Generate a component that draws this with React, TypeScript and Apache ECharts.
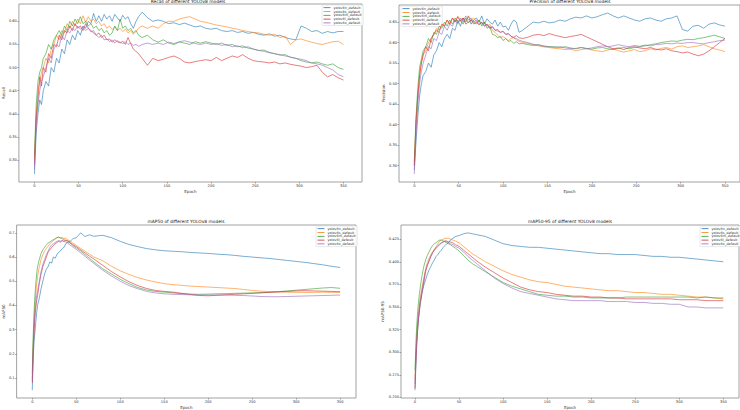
import React, { useEffect, useRef } from "react";
import * as echarts from "echarts";

const MODEL_NAMES = ["yolov8n_default", "yolov8s_default", "yolov8m_default", "yolov8l_default", "yolov8x_default"];
const COLORS = ["#1f77b4", "#ff7f0e", "#2ca02c", "#d62728", "#9467bd"];

const EPOCH_TICKS = [0, 50, 100, 150, 200, 250, 300, 350];
const RECALL_TICKS = [0.3, 0.35, 0.4, 0.45, 0.5, 0.55, 0.6];
const PRECISION_TICKS = [0.3, 0.35, 0.4, 0.45, 0.5, 0.55, 0.6, 0.65];
const MAP50_TICKS = [0.1, 0.2, 0.3, 0.4, 0.5, 0.6, 0.7];
const MAP5095_TICKS = [0.25, 0.275, 0.3, 0.325, 0.35, 0.375, 0.4, 0.425];

const EPOCHS_TOP = [0, 2, 4, 6, 8, 10, 13, 16, 19, 22, 25, 28, 31, 34, 37, 40, 43, 46, 49, 52, 55, 58, 61, 64, 67, 70, 73, 76, 79, 82, 85, 88, 91, 94, 97, 100, 103, 106, 109, 112, 115, 118, 122, 128, 134, 140, 146, 152, 158, 164, 170, 176, 182, 188, 194, 200, 206, 212, 218, 224, 230, 236, 242, 248, 254, 260, 266, 272, 278, 284, 290, 296, 302, 308, 314, 320, 326, 332, 338, 344, 350];

const EPOCHS_BOTTOM = [0, 1, 2, 3, 4, 5, 6, 8, 10, 12, 14, 16, 18, 20, 22, 24, 26, 28, 30, 32, 34, 36, 38, 40, 43, 46, 50, 55, 60, 65, 70, 80, 90, 100, 110, 120, 130, 140, 150, 160, 170, 180, 190, 200, 210, 220, 230, 240, 250, 260, 270, 280, 290, 300, 310, 320, 330, 340, 350];

// Recall
const recallN = [0.27, 0.36, 0.40, 0.43, 0.42, 0.45,
  0.47, 0.46, 0.50, 0.49, 0.52, 0.51, 0.54, 0.53, 0.56, 0.55, 0.57, 0.56, 0.58, 0.57, 0.59, 0.585, 0.60, 0.595, 0.617, 0.60, 0.612, 0.60, 0.615, 0.605, 0.612, 0.60, 0.615, 0.607, 0.60, 0.613, 0.605, 0.61, 0.595, 0.585, 0.60, 0.61,
  0.62, 0.608, 0.60, 0.603, 0.60, 0.595, 0.597, 0.593, 0.596, 0.592, 0.588, 0.59, 0.585, 0.583, 0.585, 0.58, 0.578, 0.58, 0.576, 0.578, 0.574, 0.576, 0.572, 0.57, 0.573, 0.568, 0.57, 0.565, 0.562, 0.56, 0.59, 0.585, 0.578, 0.58, 0.574, 0.578, 0.575, 0.578, 0.578];
const recallS = [0.30, 0.40, 0.45, 0.47, 0.49, 0.50,
  0.52, 0.51, 0.54, 0.55, 0.57, 0.56, 0.58, 0.575, 0.595, 0.585, 0.60, 0.59, 0.605, 0.595, 0.612, 0.598, 0.61, 0.60, 0.605, 0.595, 0.60, 0.59, 0.595, 0.585, 0.59, 0.582, 0.588, 0.58, 0.585, 0.578, 0.583, 0.575, 0.58, 0.572, 0.578, 0.585,
  0.59, 0.585, 0.59, 0.585, 0.595, 0.60, 0.60, 0.605, 0.608, 0.61, 0.605, 0.60, 0.598, 0.595, 0.592, 0.59, 0.588, 0.585, 0.583, 0.58, 0.578, 0.576, 0.575, 0.572, 0.57, 0.572, 0.565, 0.568, 0.55, 0.56, 0.562, 0.558, 0.555, 0.552, 0.55, 0.553, 0.556, 0.557, 0.55];
const recallM = [0.31, 0.42, 0.47, 0.49, 0.50, 0.52,
  0.53, 0.55, 0.54, 0.56, 0.57, 0.58, 0.57, 0.59, 0.58, 0.60, 0.59, 0.605, 0.595, 0.61, 0.595, 0.60, 0.59, 0.595, 0.585, 0.59, 0.58, 0.585, 0.575, 0.58, 0.57, 0.575, 0.59, 0.58, 0.605, 0.585, 0.59, 0.58, 0.585, 0.575, 0.58, 0.57,
  0.565, 0.57, 0.56, 0.555, 0.56, 0.553, 0.55, 0.555, 0.553, 0.55, 0.556, 0.553, 0.556, 0.553, 0.55, 0.553, 0.548, 0.55, 0.545, 0.547, 0.542, 0.54, 0.537, 0.538, 0.533, 0.53, 0.527, 0.528, 0.522, 0.52, 0.515, 0.512, 0.51, 0.512, 0.508, 0.505, 0.508, 0.50, 0.496];
const recallL = [0.29, 0.39, 0.43, 0.48, 0.46, 0.50,
  0.49, 0.53, 0.52, 0.55, 0.545, 0.57, 0.56, 0.58, 0.575, 0.59, 0.58, 0.595, 0.585, 0.59, 0.58, 0.595, 0.585, 0.58, 0.575, 0.57, 0.575, 0.565, 0.57, 0.56, 0.562, 0.555, 0.56, 0.556, 0.553, 0.557, 0.55, 0.565, 0.552, 0.54, 0.535, 0.53,
  0.52, 0.505, 0.52, 0.515, 0.518, 0.522, 0.525, 0.52, 0.512, 0.51, 0.513, 0.515, 0.517, 0.515, 0.522, 0.515, 0.52, 0.525, 0.522, 0.528, 0.52, 0.515, 0.513, 0.512, 0.51, 0.512, 0.508, 0.51, 0.507, 0.505, 0.503, 0.50, 0.502, 0.505, 0.49, 0.48, 0.485, 0.478, 0.473];
const recallX = [0.28, 0.38, 0.42, 0.45, 0.47, 0.48,
  0.50, 0.52, 0.51, 0.54, 0.55, 0.545, 0.57, 0.56, 0.58, 0.575, 0.585, 0.58, 0.59, 0.583, 0.588, 0.58, 0.585, 0.577, 0.58, 0.57, 0.565, 0.57, 0.56, 0.562, 0.556, 0.56, 0.553, 0.558, 0.555, 0.552, 0.556, 0.55, 0.553, 0.548, 0.55, 0.546,
  0.55, 0.553, 0.55, 0.553, 0.55, 0.555, 0.552, 0.556, 0.558, 0.555, 0.552, 0.55, 0.553, 0.55, 0.552, 0.548, 0.55, 0.545, 0.547, 0.543, 0.545, 0.54, 0.537, 0.535, 0.532, 0.53, 0.528, 0.525, 0.523, 0.52, 0.518, 0.515, 0.51, 0.508, 0.505, 0.50, 0.495, 0.485, 0.48];

// Precision
const precisionN = [0.29, 0.36, 0.42, 0.47, 0.50, 0.52,
  0.53, 0.55, 0.54, 0.57, 0.58, 0.60, 0.59, 0.61, 0.62, 0.61, 0.635, 0.63, 0.655, 0.64, 0.66, 0.65, 0.665, 0.645, 0.655, 0.66, 0.65, 0.665, 0.645, 0.658, 0.65, 0.645, 0.655, 0.64, 0.65, 0.638, 0.64, 0.63, 0.645, 0.655, 0.65, 0.625,
  0.63, 0.64, 0.65, 0.648, 0.652, 0.648, 0.65, 0.655, 0.652, 0.658, 0.662, 0.66, 0.665, 0.66, 0.663, 0.668, 0.672, 0.665, 0.66, 0.665, 0.66, 0.655, 0.652, 0.658, 0.66, 0.655, 0.652, 0.658, 0.66, 0.665, 0.632, 0.628, 0.64, 0.642, 0.635, 0.645, 0.648, 0.643, 0.64];
const precisionS = [0.30, 0.40, 0.47, 0.52, 0.55, 0.57,
  0.58, 0.60, 0.61, 0.62, 0.635, 0.63, 0.645, 0.64, 0.655, 0.645, 0.66, 0.65, 0.665, 0.655, 0.66, 0.65, 0.665, 0.655, 0.66, 0.65, 0.655, 0.645, 0.65, 0.64, 0.645, 0.63, 0.625, 0.618, 0.612, 0.615, 0.61, 0.605, 0.61, 0.612, 0.607, 0.603,
  0.60, 0.598, 0.595, 0.592, 0.59, 0.588, 0.586, 0.585, 0.583, 0.584, 0.58, 0.583, 0.585, 0.582, 0.58, 0.578, 0.582, 0.585, 0.58, 0.577, 0.58, 0.583, 0.578, 0.58, 0.585, 0.582, 0.586, 0.588, 0.584, 0.59, 0.592, 0.588, 0.59, 0.592, 0.595, 0.59, 0.585, 0.582, 0.578];
const precisionM = [0.31, 0.42, 0.49, 0.54, 0.56, 0.58,
  0.59, 0.61, 0.60, 0.625, 0.62, 0.64, 0.635, 0.65, 0.64, 0.655, 0.645, 0.66, 0.648, 0.655, 0.645, 0.66, 0.648, 0.655, 0.65, 0.645, 0.655, 0.64, 0.65, 0.635, 0.64, 0.62, 0.618, 0.612, 0.615, 0.605, 0.61, 0.603, 0.605, 0.598, 0.602, 0.597,
  0.598, 0.595, 0.593, 0.595, 0.592, 0.59, 0.59, 0.588, 0.59, 0.587, 0.585, 0.588, 0.586, 0.584, 0.587, 0.588, 0.585, 0.583, 0.586, 0.588, 0.585, 0.588, 0.59, 0.592, 0.595, 0.597, 0.60, 0.602, 0.604, 0.603, 0.606, 0.608, 0.607, 0.61, 0.612, 0.615, 0.618, 0.614, 0.61];
const precisionL = [0.30, 0.41, 0.47, 0.52, 0.55, 0.57,
  0.59, 0.58, 0.61, 0.62, 0.63, 0.625, 0.645, 0.64, 0.655, 0.645, 0.66, 0.65, 0.662, 0.652, 0.66, 0.645, 0.65, 0.655, 0.645, 0.65, 0.643, 0.65, 0.64, 0.645, 0.635, 0.638, 0.63, 0.632, 0.625, 0.627, 0.62, 0.622, 0.615, 0.613, 0.617, 0.612,
  0.61, 0.613, 0.618, 0.62, 0.617, 0.622, 0.618, 0.615, 0.612, 0.615, 0.617, 0.62, 0.614, 0.608, 0.602, 0.596, 0.59, 0.585, 0.587, 0.583, 0.588, 0.59, 0.587, 0.585, 0.588, 0.584, 0.582, 0.585, 0.58, 0.578, 0.575, 0.577, 0.572, 0.568, 0.572, 0.58, 0.59, 0.60, 0.61];
const precisionX = [0.28, 0.38, 0.45, 0.50, 0.53, 0.55,
  0.57, 0.59, 0.585, 0.61, 0.605, 0.625, 0.62, 0.64, 0.63, 0.645, 0.64, 0.655, 0.645, 0.66, 0.65, 0.665, 0.655, 0.66, 0.65, 0.655, 0.645, 0.65, 0.64, 0.645, 0.635, 0.64, 0.63, 0.628, 0.625, 0.628, 0.62, 0.622, 0.615, 0.612, 0.61, 0.606,
  0.603, 0.60, 0.596, 0.594, 0.59, 0.59, 0.588, 0.59, 0.587, 0.585, 0.586, 0.588, 0.585, 0.587, 0.59, 0.592, 0.59, 0.592, 0.595, 0.592, 0.59, 0.593, 0.591, 0.594, 0.592, 0.595, 0.596, 0.598, 0.597, 0.599, 0.598, 0.60, 0.60, 0.598, 0.597, 0.60, 0.602, 0.605, 0.606];

// mAP50
const map50N = [0.05, 0.18, 0.25, 0.29, 0.33, 0.37, 0.40,
  0.43, 0.47, 0.50, 0.53, 0.55, 0.56, 0.58, 0.575, 0.60, 0.595, 0.61, 0.62, 0.625, 0.635, 0.64, 0.655, 0.66,
  0.665, 0.675, 0.68, 0.70, 0.685, 0.692,
  0.686, 0.69, 0.68, 0.665, 0.652, 0.643, 0.635, 0.63, 0.626, 0.624, 0.622, 0.619, 0.617, 0.615, 0.612, 0.61, 0.607, 0.603, 0.60, 0.597, 0.594, 0.59, 0.586, 0.582, 0.578, 0.573, 0.568, 0.562, 0.557];
const map50S = [0.10, 0.24, 0.33, 0.40, 0.45, 0.49, 0.52,
  0.56, 0.59, 0.61, 0.625, 0.635, 0.645, 0.655, 0.662, 0.668, 0.674, 0.68, 0.683, 0.678, 0.682, 0.676, 0.678, 0.672,
  0.666, 0.658, 0.648, 0.636, 0.624, 0.612,
  0.60, 0.585, 0.562, 0.543, 0.528, 0.515, 0.505, 0.497, 0.49, 0.486, 0.483, 0.48, 0.478, 0.476, 0.474, 0.472, 0.47, 0.466, 0.462, 0.459, 0.457, 0.456, 0.455, 0.454, 0.454, 0.454, 0.455, 0.454, 0.454];
const map50M = [0.12, 0.27, 0.37, 0.44, 0.49, 0.53, 0.56,
  0.59, 0.615, 0.63, 0.64, 0.65, 0.658, 0.662, 0.668, 0.672, 0.676, 0.68, 0.682, 0.679, 0.676, 0.672, 0.668, 0.665,
  0.658, 0.648, 0.638, 0.625, 0.61, 0.595,
  0.58, 0.552, 0.53, 0.508, 0.49, 0.474, 0.464, 0.458, 0.455, 0.452, 0.449, 0.447, 0.446, 0.447, 0.448, 0.449, 0.45, 0.451, 0.452, 0.453, 0.455, 0.457, 0.46, 0.463, 0.466, 0.469, 0.472, 0.474, 0.471];
const map50L = [0.08, 0.20, 0.29, 0.35, 0.39, 0.42, 0.44,
  0.49, 0.53, 0.56, 0.58, 0.60, 0.62, 0.63, 0.64, 0.648, 0.655, 0.66, 0.665, 0.662, 0.668, 0.665, 0.67, 0.668,
  0.66, 0.652, 0.643, 0.63, 0.617, 0.604,
  0.592, 0.566, 0.54, 0.518, 0.498, 0.482, 0.47, 0.462, 0.458, 0.455, 0.45, 0.445, 0.441, 0.44, 0.442, 0.444, 0.446, 0.448, 0.45, 0.452, 0.454, 0.456, 0.458, 0.46, 0.461, 0.46, 0.459, 0.458, 0.457];
const map50X = [0.09, 0.22, 0.31, 0.37, 0.41, 0.44, 0.46,
  0.50, 0.54, 0.57, 0.59, 0.61, 0.625, 0.64, 0.65, 0.655, 0.66, 0.665, 0.668, 0.666, 0.668, 0.664, 0.662, 0.658,
  0.65, 0.642, 0.632, 0.618, 0.603, 0.588,
  0.574, 0.546, 0.522, 0.50, 0.482, 0.469, 0.458, 0.452, 0.448, 0.446, 0.445, 0.444, 0.443, 0.443, 0.443, 0.443, 0.442, 0.441, 0.439, 0.437, 0.436, 0.436, 0.437, 0.438, 0.439, 0.44, 0.441, 0.442, 0.443];

// mAP50-95
const map5095N = [0.258, 0.285, 0.31, 0.325, 0.337, 0.346, 0.354,
  0.366, 0.374, 0.38, 0.386, 0.391, 0.395, 0.399, 0.402, 0.406, 0.408, 0.411, 0.413, 0.416, 0.418, 0.42, 0.421, 0.424,
  0.426, 0.428, 0.429, 0.431, 0.432, 0.431,
  0.43, 0.428, 0.424, 0.42, 0.418, 0.417, 0.416, 0.416, 0.415, 0.414, 0.413, 0.412, 0.411, 0.41, 0.409, 0.409, 0.408, 0.408, 0.408, 0.407, 0.406, 0.406, 0.405, 0.405, 0.404, 0.403, 0.402, 0.401, 0.40];
const map5095S = [0.27, 0.30, 0.32, 0.335, 0.345, 0.354, 0.361,
  0.372, 0.382, 0.392, 0.399, 0.404, 0.408, 0.411, 0.414, 0.417, 0.42, 0.423, 0.424, 0.425, 0.426, 0.426, 0.426, 0.425,
  0.424, 0.423, 0.421, 0.417, 0.413, 0.409,
  0.406, 0.40, 0.395, 0.39, 0.386, 0.383, 0.38, 0.378, 0.377, 0.375, 0.373, 0.372, 0.371, 0.37, 0.369, 0.368, 0.368, 0.367, 0.366, 0.366, 0.365, 0.364, 0.364, 0.363, 0.362, 0.361, 0.361, 0.36, 0.359];
const map5095M = [0.28, 0.31, 0.33, 0.345, 0.356, 0.365, 0.372,
  0.385, 0.395, 0.402, 0.407, 0.411, 0.415, 0.418, 0.42, 0.421, 0.423, 0.424, 0.424, 0.423, 0.422, 0.421, 0.42, 0.419,
  0.417, 0.415, 0.412, 0.407, 0.402, 0.398,
  0.395, 0.389, 0.383, 0.377, 0.373, 0.37, 0.367, 0.364, 0.363, 0.362, 0.362, 0.361, 0.361, 0.36, 0.36, 0.36, 0.36, 0.361, 0.361, 0.361, 0.361, 0.361, 0.361, 0.361, 0.361, 0.36, 0.361, 0.36, 0.36];
const map5095L = [0.26, 0.29, 0.31, 0.325, 0.337, 0.346, 0.354,
  0.366, 0.378, 0.389, 0.396, 0.401, 0.406, 0.41, 0.413, 0.415, 0.417, 0.419, 0.421, 0.422, 0.423, 0.423, 0.422, 0.422,
  0.421, 0.419, 0.417, 0.413, 0.409, 0.405,
  0.401, 0.394, 0.388, 0.382, 0.377, 0.372, 0.369, 0.367, 0.366, 0.364, 0.363, 0.362, 0.362, 0.361, 0.361, 0.36, 0.36, 0.359, 0.359, 0.359, 0.359, 0.359, 0.359, 0.358, 0.358, 0.358, 0.357, 0.357, 0.357];
const map5095X = [0.265, 0.295, 0.315, 0.33, 0.34, 0.35, 0.357,
  0.368, 0.379, 0.39, 0.396, 0.401, 0.406, 0.41, 0.413, 0.416, 0.418, 0.42, 0.421, 0.422, 0.423, 0.422, 0.421, 0.42,
  0.419, 0.417, 0.415, 0.411, 0.406, 0.402,
  0.398, 0.39, 0.382, 0.376, 0.371, 0.367, 0.365, 0.363, 0.361, 0.359, 0.358, 0.357, 0.357, 0.357, 0.357, 0.356, 0.356, 0.356, 0.355, 0.355, 0.354, 0.354, 0.353, 0.353, 0.35, 0.35, 0.349, 0.349, 0.349];

const FONT = "DejaVu Sans";

const PANELS = [
  {
    title: "Recall of different YOLOv8 models", yName: "Recall", epochs: EPOCHS_TOP,
    values: [recallN, recallS, recallM, recallL, recallX],
    grid: { left: 15, top: 4, width: 347, height: 178 }, xMin: -17.6, xMax: 371,
    yMin: 0.2525, yMax: 0.6375, yTicks: RECALL_TICKS, digits: 2,
    titleX: 188, titleY: -1, legendX: 322, legendY: 5,
  },
  {
    title: "Precision of different YOLOv8 models", yName: "Precision", epochs: EPOCHS_TOP,
    values: [precisionN, precisionS, precisionM, precisionL, precisionX],
    grid: { left: 399, top: 5, width: 342, height: 177 }, xMin: -17.2, xMax: 366.9,
    yMin: 0.2604, yMax: 0.6916, yTicks: PRECISION_TICKS, digits: 2,
    titleX: 570, titleY: -1, legendX: 401, legendY: 6,
  },
  {
    title: "mAP50 of different YOLOv8 models", yName: "mAP50", epochs: EPOCHS_BOTTOM,
    values: [map50N, map50S, map50M, map50L, map50X],
    grid: { left: 15, top: 225, width: 341, height: 173 }, xMin: -17.8, xMax: 368,
    yMin: 0.0175, yMax: 0.7325, yTicks: MAP50_TICKS, digits: 1,
    titleX: 186, titleY: 219, legendX: 316, legendY: 226,
  },
  {
    title: "mAP50-95 of different YOLOv8 models", yName: "mAP50-95", epochs: EPOCHS_BOTTOM,
    values: [map5095N, map5095S, map5095M, map5095L, map5095X],
    grid: { left: 401, top: 225, width: 338, height: 174 }, xMin: -15.9, xMax: 367.8,
    yMin: 0.2493, yMax: 0.4407, yTicks: MAP5095_TICKS, digits: 3,
    titleX: 570, titleY: 219, legendX: 700, legendY: 226,
  },
];

function buildOption() {
  const grids: any[] = [];
  const xAxes: any[] = [];
  const yAxes: any[] = [];
  const series: any[] = [];
  const legends: any[] = [];
  const graphics: any[] = [];

  PANELS.forEach((p, i) => {
    grids.push({ ...p.grid, show: true, borderColor: "#8a8a8a", borderWidth: 0.8, backgroundColor: "#fff", containLabel: false });
    xAxes.push({
      type: "value", gridIndex: i, min: p.xMin, max: p.xMax, position: "bottom",
      name: "Epoch", nameLocation: "middle", nameGap: 7,
      nameTextStyle: { fontSize: 4, color: "#333", fontFamily: FONT },
      axisLine: { show: false, onZero: false },
      axisTick: { show: true, length: 1.5, customValues: EPOCH_TICKS, lineStyle: { color: "#555", width: 0.5 } },
      axisLabel: { fontSize: 3.6, color: "#333", margin: 2, fontFamily: FONT, customValues: EPOCH_TICKS, formatter: (v: number) => String(v) },
      splitLine: { show: false },
    });
    yAxes.push({
      type: "value", gridIndex: i, min: p.yMin, max: p.yMax, position: "left",
      name: p.yName, nameLocation: "middle", nameGap: 10,
      nameTextStyle: { fontSize: 4, color: "#333", fontFamily: FONT },
      axisLine: { show: false, onZero: false },
      axisTick: { show: true, length: 1.5, customValues: p.yTicks, lineStyle: { color: "#555", width: 0.5 } },
      axisLabel: { fontSize: 3.6, color: "#333", margin: 2, fontFamily: FONT, customValues: p.yTicks, formatter: (v: number) => v.toFixed(p.digits) },
      splitLine: { show: false },
    });
    p.values.forEach((vals, k) => {
      series.push({
        type: "line", name: MODEL_NAMES[k], xAxisIndex: i, yAxisIndex: i,
        data: p.epochs.map((e, j) => [e, vals[j]]).filter((d) => d[1] !== undefined),
        showSymbol: false, symbol: "none",
        lineStyle: { width: 0.6, color: COLORS[k] }, itemStyle: { color: COLORS[k] },
        z: 2 + k,
      });
    });
    legends.push({
      data: MODEL_NAMES, orient: "vertical", left: p.legendX, top: p.legendY,
      icon: "rect", itemWidth: 7, itemHeight: 0.8, itemGap: 0.8,
      padding: [1.2, 1.5, 1.2, 1.5], borderColor: "#d0d0d0", borderWidth: 0.5, borderRadius: 1,
      backgroundColor: "rgba(255,255,255,0.85)",
      textStyle: { fontSize: 3.4, color: "#333", fontFamily: FONT, padding: [0, 0, 0, -2] },
      selectedMode: false,
    });
    graphics.push({
      type: "text", x: p.titleX, y: p.titleY, z: 100,
      style: { text: p.title, fontSize: 4.4, fill: "#222", fontFamily: FONT, align: "center", verticalAlign: "top" },
    });
  });

  return {
    animation: false,
    backgroundColor: "#ffffff",
    color: COLORS,
    grid: grids,
    xAxis: xAxes,
    yAxis: yAxes,
    legend: legends,
    series,
    graphic: graphics,
  };
}

export default function App() {
  const ref = useRef<HTMLDivElement>(null);
  useEffect(() => {
    if (!ref.current) return;
    const chart = echarts.init(ref.current, null, { renderer: "svg" });
    chart.setOption(buildOption() as any);
    return () => chart.dispose();
  }, []);
  return (
    <div
      ref={ref}
      style={{ position: "absolute", left: 0, top: 0, width: 740, height: 410, background: "#fff" }}
    />
  );
}
